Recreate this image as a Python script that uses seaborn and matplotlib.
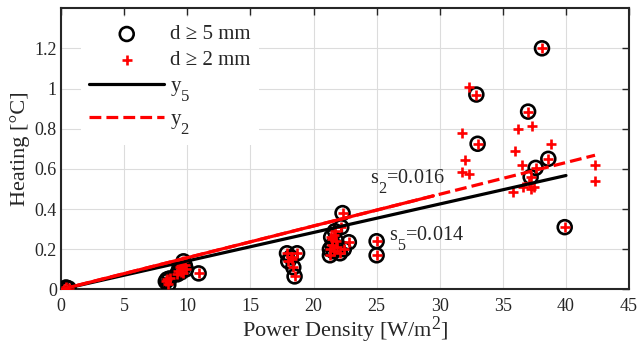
import numpy as np
import pandas as pd
import matplotlib
matplotlib.use("Agg")
import matplotlib.pyplot as plt
import matplotlib._mathtext as _mt
import seaborn as sns
from matplotlib.ticker import FuncFormatter

# ---- data ----
x5 = [0.2, 0.4, 0.6, 8.3, 8.4, 8.5, 8.6, 9.2, 9.3, 9.4, 9.6, 9.7, 9.8, 9.9, 9.5, 10.9,
      17.9, 18.7, 18.0, 18.4, 18.5, 18.2,
      21.3, 21.3, 21.4, 21.5, 21.6, 21.7, 21.8, 21.9, 22.1, 22.4, 22.2, 22.3, 22.8,
      25.0, 25.0, 32.9, 33.0, 37.0, 38.1, 38.6, 37.6, 37.2, 39.9]
y5 = [0.0, 0.01, 0.005, 0.04, 0.05, 0.025, 0.055, 0.075, 0.09, 0.11, 0.10, 0.14, 0.12, 0.10, 0.085, 0.08,
      0.18, 0.18, 0.14, 0.11, 0.065, 0.16,
      0.17, 0.20, 0.26, 0.22, 0.19, 0.29, 0.24, 0.21, 0.18, 0.20, 0.31, 0.38, 0.235,
      0.24, 0.17, 0.97, 0.725, 0.885, 1.20, 0.65, 0.605, 0.56, 0.31]
x2_extra = [32.3, 31.8, 32.0, 31.8, 32.3, 36.2, 37.3, 36.0, 38.8, 36.5,
            35.8, 36.6, 37.2, 37.5, 42.3, 42.3, 37.1, 9.5, 9.7, 21.5, 21.6, 18.3]
y2_extra = [1.005, 0.78, 0.645, 0.585, 0.575, 0.80, 0.815, 0.69, 0.725, 0.62,
            0.485, 0.51, 0.50, 0.51, 0.62, 0.54, 0.53, 0.12, 0.08, 0.25, 0.27, 0.15]

fit5_x = [0, 40.0]
fit5_y = [0, 0.567]
fit2_x = [0, 42.3]
fit2_y = [0, 0.668]
fit2_solid_x = [0, 29.5]
fit2_solid_y = [0, 0.466]

xticks = [0, 5, 10, 15, 20, 25, 30, 35, 40, 45]
yticks = [0, 0.2, 0.4, 0.6, 0.8, 1.0, 1.2]

# ---- style ----
sns.set_style("white")
plt.rcParams['font.family'] = ['Liberation Serif', 'DejaVu Serif']
plt.rcParams['mathtext.fontset'] = 'custom'
plt.rcParams['mathtext.rm'] = 'Liberation Serif'
plt.rcParams['mathtext.it'] = 'Liberation Serif'
# TeX-like subscripts: larger and lower (MATLAB look)
_mt.SHRINK_FACTOR = 0.8
_mt.FontConstantsBase.sub1 = 1.05
_mt.FontConstantsBase.sub2 = 1.05
_mt.FontConstantsBase.subdrop = 0.6
_mt.FontConstantsBase.sup1 = 0.75

fig = plt.figure(figsize=(6.39, 3.53), dpi=100)
ax = fig.add_axes([0.0955, 0.180, 0.889, 0.797])

df5 = pd.DataFrame({"x": x5, "y": y5})
df2 = pd.DataFrame({"x": x5 + x2_extra, "y": y5 + y2_extra})

sns.scatterplot(data=df5, x="x", y="y", ax=ax, marker="o", s=100,
                facecolors="none", edgecolor="black", linewidth=1.9,
                label="d \u2265 5 mm", zorder=3)
sns.scatterplot(data=df2, x="x", y="y", ax=ax, marker="+", s=62,
                color="red", linewidth=1.9, label="d \u2265 2 mm", zorder=4)

sns.lineplot(x=fit5_x, y=fit5_y, ax=ax, color="black", linewidth=2.3,
             label=r"$\mathrm{y}_5$", zorder=5)
sns.lineplot(x=fit2_solid_x, y=fit2_solid_y, ax=ax, color="red", linewidth=2.3,
             zorder=6, legend=False)
sns.lineplot(x=fit2_x, y=fit2_y, ax=ax, color="red", linewidth=2.3,
             linestyle="--", label=r"$\mathrm{y}_2$", zorder=6)

ax.text(24.5, 0.528, r"s$_2$=0.016", fontsize=14.5, ha="left", va="baseline",
        color="#262626")
ax.text(26.0, 0.246, r"s$_5$=0.014", fontsize=14.5, ha="left", va="baseline",
        color="#262626")

ax.set_xlim(0, 45)
ax.set_ylim(0, 1.4)
ax.set_xticks(xticks)
ax.set_yticks(yticks)
ax.yaxis.set_major_formatter(FuncFormatter(lambda v, p: f"{v:g}"))
ax.grid(True, color="#dcdcdc", linewidth=0.8)
ax.set_axisbelow(True)
ax.tick_params(direction="in", length=5, width=1.0, top=True, right=True,
               labelsize=13, colors="#262626")
ax.tick_params(axis="x", pad=6)
ax.tick_params(axis="y", pad=3)
for sp in ax.spines.values():
    sp.set_visible(True)
    sp.set_color("#262626")
    sp.set_linewidth(1.5)

ax.set_xlabel("Power Density [W/m$^2$]", fontsize=16, color="#262626", labelpad=0)
ax.set_ylabel("Heating [\u00b0C]", fontsize=16, color="#262626", labelpad=3)

leg = ax.legend(loc="upper left", bbox_to_anchor=(0.035, 0.97), fontsize=15,
                frameon=True, facecolor="white", edgecolor="white", framealpha=1,
                handlelength=3.6, borderaxespad=0.0, borderpad=0.4,
                labelspacing=0.3, handletextpad=0.3)
leg.get_frame().set_linewidth(0)

fig.savefig("out.png", dpi=100)
